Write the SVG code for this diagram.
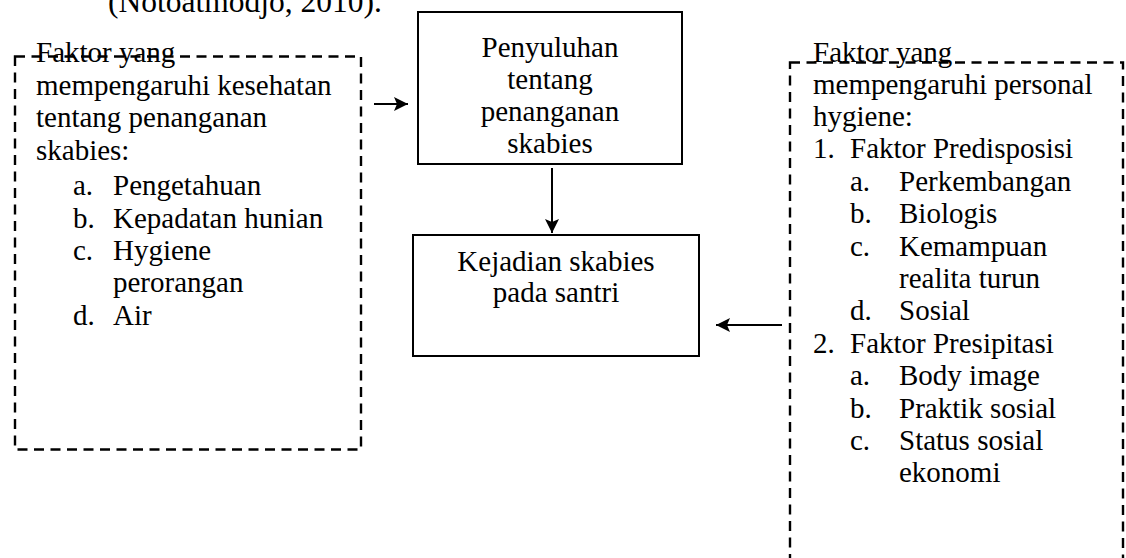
<svg xmlns="http://www.w3.org/2000/svg" width="1126" height="558" viewBox="0 0 1126 558" font-family="Liberation Serif, Times New Roman, DejaVu Serif, serif">
<style>
text{font-family:'Liberation Serif','Times New Roman','DejaVu Serif',serif;font-size:29px;fill:#000}
.c{text-anchor:middle}
.box{fill:#fff;stroke:#000;stroke-width:2}
.dash{fill:none;stroke:#000;stroke-width:2.4;stroke-dasharray:10 6.5}
.conn{stroke:#000;stroke-width:2;fill:none;marker-end:url(#ah)}
</style>
<defs>
<marker id="ah" markerUnits="userSpaceOnUse" markerWidth="15" markerHeight="15" refX="14" refY="7" orient="auto">
<path d="M0,0 L14,7 L0,14 L3,7 Z" fill="#000"/>
</marker>
</defs>
<rect width="1126" height="558" fill="#fff"/>
<text x="108" y="12" style="font-size:31.5px">(Notoatmodjo, 2010).</text>

<g id="faktor-kesehatan">
<rect class="dash" x="15" y="56.5" width="346" height="393"/>
<text x="36" y="62">Faktor yang</text>
<text x="36" y="95">mempengaruhi kesehatan</text>
<text x="36" y="127">tentang penanganan</text>
<text x="36" y="160">skabies:</text>
<text x="73" y="195">a.</text><text x="113" y="195">Pengetahuan</text>
<text x="73" y="228">b.</text><text x="113" y="228">Kepadatan hunian</text>
<text x="73" y="260">c.</text><text x="113" y="260">Hygiene</text>
<text x="113" y="292">perorangan</text>
<text x="73" y="325">d.</text><text x="113" y="325">Air</text>
</g>

<g id="penyuluhan">
<rect class="box" x="418" y="12" width="264" height="152"/>
<text class="c" x="550" y="57">Penyuluhan</text>
<text class="c" x="550" y="89">tentang</text>
<text class="c" x="550" y="121">penanganan</text>
<text class="c" x="550" y="153">skabies</text>
</g>

<g id="kejadian">
<rect class="box" x="413" y="235" width="286" height="121"/>
<text class="c" x="556" y="271">Kejadian skabies</text>
<text class="c" x="556" y="302">pada santri</text>
</g>

<g id="faktor-personal">
<rect class="dash" x="790" y="62.5" width="333" height="520"/>
<text x="813" y="62">Faktor yang</text>
<text x="813" y="94">mempengaruhi personal</text>
<text x="813" y="126">hygiene:</text>
<text x="813" y="158">1.</text><text x="850" y="158">Faktor Predisposisi</text>
<text x="850" y="191">a.</text><text x="899" y="191">Perkembangan</text>
<text x="850" y="223">b.</text><text x="899" y="223">Biologis</text>
<text x="850" y="256">c.</text><text x="899" y="256">Kemampuan</text>
<text x="899" y="288">realita turun</text>
<text x="850" y="320">d.</text><text x="899" y="320">Sosial</text>
<text x="813" y="353">2.</text><text x="850" y="353">Faktor Presipitasi</text>
<text x="850" y="385">a.</text><text x="899" y="385">Body image</text>
<text x="850" y="418">b.</text><text x="899" y="418">Praktik sosial</text>
<text x="850" y="450">c.</text><text x="899" y="450">Status sosial</text>
<text x="899" y="482">ekonomi</text>
</g>

<g id="connectors">
<line class="conn" x1="374" y1="104" x2="408" y2="104"/>
<line class="conn" x1="552" y1="168" x2="552" y2="233"/>
<line class="conn" x1="782" y1="325" x2="716" y2="325"/>
</g>
</svg>
